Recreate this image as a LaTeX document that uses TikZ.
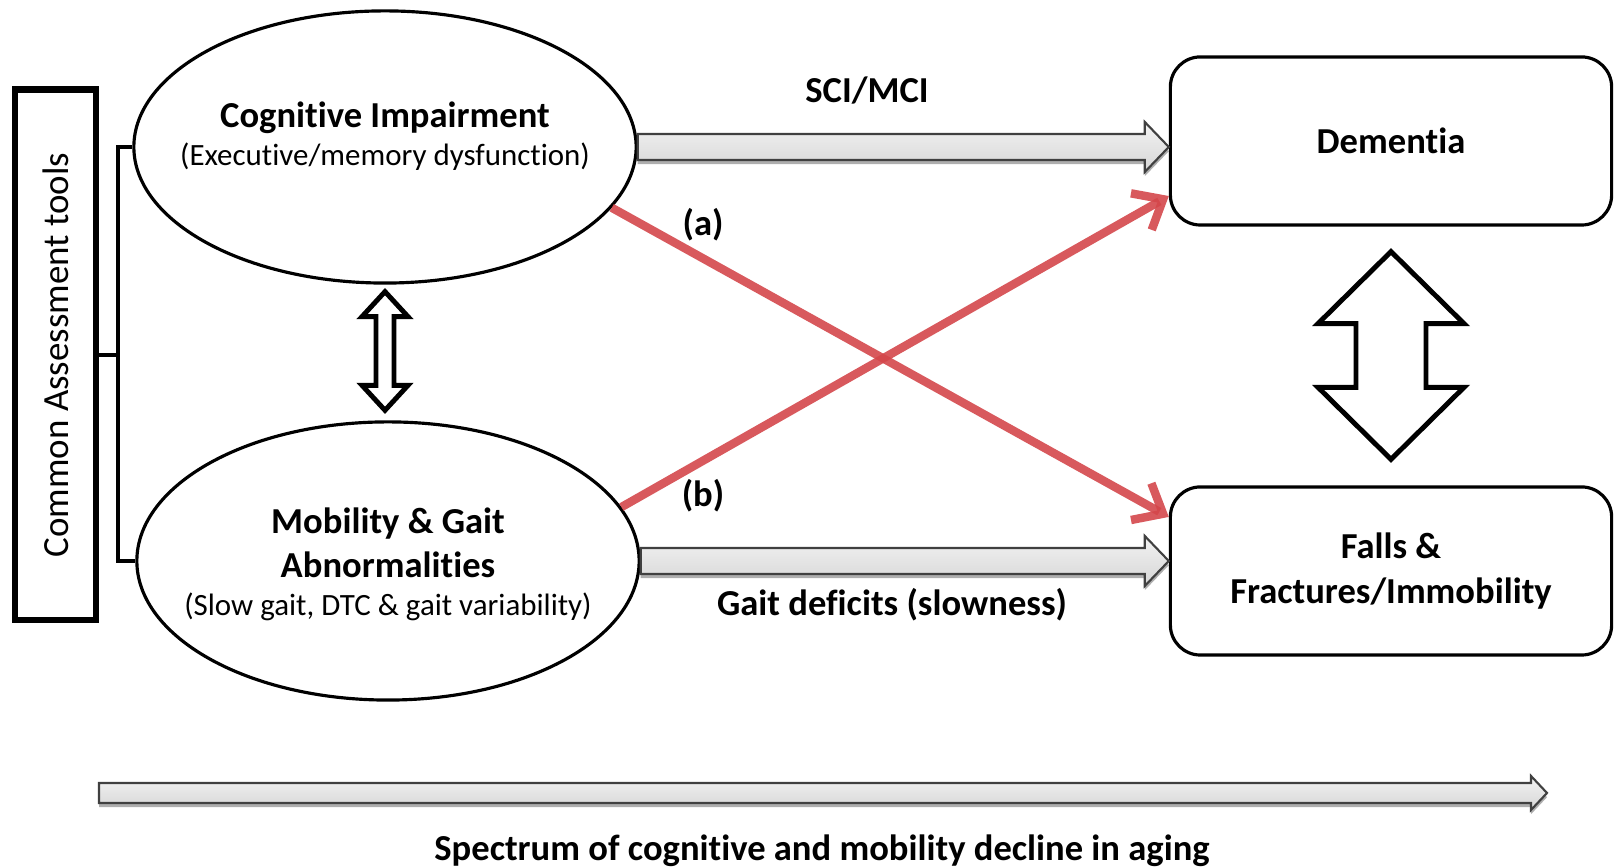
\documentclass[tikz,border=0pt]{standalone}
\usepackage{fontspec}
\setmainfont[Ligatures=NoCommon]{Carlito}
\usepackage{tikz}
\usetikzlibrary{arrows.meta,shapes.geometric,shadows,calc}
\definecolor{arrowred}{HTML}{D4474B}

% horizontal block arrow: style, start, tip, shaft half, head half, head length
\newcommand{\blockarrow}[6]{%
  \draw[#1] ([shift={(0,#4)}]#2) -- ([shift={(-#6,#4)}]#3) -- ([shift={(-#6,#5)}]#3)
    -- (#3) -- ([shift={(-#6,-#5)}]#3) -- ([shift={(-#6,-#4)}]#3)
    -- ([shift={(0,-#4)}]#2) -- cycle;}
% vertical two-way arrow: style, top tip, bottom tip, head half, shaft half, head length
\newcommand{\twowayarrow}[6]{%
  \draw[#1] (#2) -- ([shift={(#4,-#6)}]#2) -- ([shift={(#5,-#6)}]#2)
    -- ([shift={(#5,#6)}]#3) -- ([shift={(#4,#6)}]#3) -- (#3)
    -- ([shift={(-#4,#6)}]#3) -- ([shift={(-#5,#6)}]#3)
    -- ([shift={(-#5,-#6)}]#2) -- ([shift={(-#4,-#6)}]#2) -- cycle;}

\begin{document}
\begin{tikzpicture}[x=0.01cm, y=0.01cm, line width=0.9pt,
  bigtext/.style={font=\bfseries\fontsize{10.4}{12.6}\selectfont, align=center},
  smalltext/.style={font=\fontsize{8.8}{10.5}\selectfont},
  ell/.style={ellipse, draw, inner sep=0pt, minimum width=5.02cm},
  outcome/.style={draw, rounded corners=0.3cm, minimum width=4.41cm, minimum height=1.68cm, inner sep=0pt},
  grayarrow/.style={draw=black!75, line width=0.6pt, top color=gray!10, bottom color=gray!32,
    drop shadow={shadow xshift=0pt, shadow yshift=-1.2pt, opacity=0.45, fill=black!70}},
  twoway/.style={draw, line width=1.4pt, fill=white},
  redarrow/.style={draw=arrowred, line width=2.4pt, opacity=0.9,
    -{Straight Barb[length=0.25cm, width=0.42cm]}}]

  \useasboundingbox (0,0) rectangle (1615,868);

  % the two ellipses on the left
  \node[ell, minimum height=2.72cm] (cog) at (385,721) {};
  \node[bigtext] (cogtext) at (385,750) {Cognitive Impairment};
  \node[smalltext] (cogsub) at (385,711) {(Executive/memory dysfunction)};

  \node[ell, minimum height=2.78cm] (mob) at (388,307) {};
  \node[bigtext] (mobtext) at (388,325) {Mobility \& Gait\\Abnormalities};
  \node[smalltext] (mobsub) at (388,261) {(Slow gait, DTC \& gait variability)};

  % outcomes on the right
  \node[outcome, bigtext] (dem) at (1391,727) {Dementia};
  \node[outcome, bigtext] (fall) at (1391,297) {Falls \&\\Fractures/Immobility};

  % assessment box and its bracket
  \node[draw, line width=1.9pt, minimum width=0.81cm, minimum height=5.3cm, inner sep=0pt] (tools) at (55.5,513) {};
  \node[rotate=90, font=\fontsize{10.5}{12}\selectfont] (toolstext) at (tools.center) {Common Assessment tools};
  \coordinate (brk) at (118,513);
  \draw (tools.east) -- (brk);
  \draw (cog.west) -- (cog.west -| brk) -- (mob.west -| brk) -- (mob.west);

  % straight block arrows
  \coordinate (sciend) at (cog.east -| dem.west);
  \blockarrow{grayarrow}{cog.east}{sciend}{13}{25}{24}
  \coordinate (gaitend) at (mob.east -| fall.west);
  \blockarrow{grayarrow}{mob.east}{gaitend}{13}{25}{24}
  \node[bigtext] (scilabel) at (867,777) {SCI/MCI};
  \node[bigtext] (gaitlabel) at (892,263) {Gait deficits (slowness)};

  % crossing paths
  \draw[redarrow] (cog.-15) -- ([yshift=0.54cm]fall.west);
  \draw[redarrow] (mob.13) -- ([yshift=-0.55cm]dem.west);
  \node[bigtext] (alabel) at (703,643) {(a)};
  \node[bigtext] (blabel) at (703,372) {(b)};

  % two-way arrows
  \coordinate (ctop) at ([yshift=-0.07cm]cog.south);
  \coordinate (cbot) at ($(ctop |- mob.north)+(0,10)$);
  \twowayarrow{twoway}{ctop}{cbot}{23}{9}{25}
  \coordinate (dtop) at ([yshift=-0.25cm]dem.south);
  \coordinate (dbot) at ([yshift=0.26cm]fall.north);
  \twowayarrow{twoway}{dtop}{dbot}{73}{35}{72}

  % spectrum along the bottom
  \coordinate (spanstart) at (99,75);
  \coordinate (spanend) at (1547,75);
  \blockarrow{grayarrow}{spanstart}{spanend}{10}{17}{16}
  \node[bigtext] (spectrum) at (822,17) {Spectrum of cognitive and mobility decline in aging};

\end{tikzpicture}
\end{document}
